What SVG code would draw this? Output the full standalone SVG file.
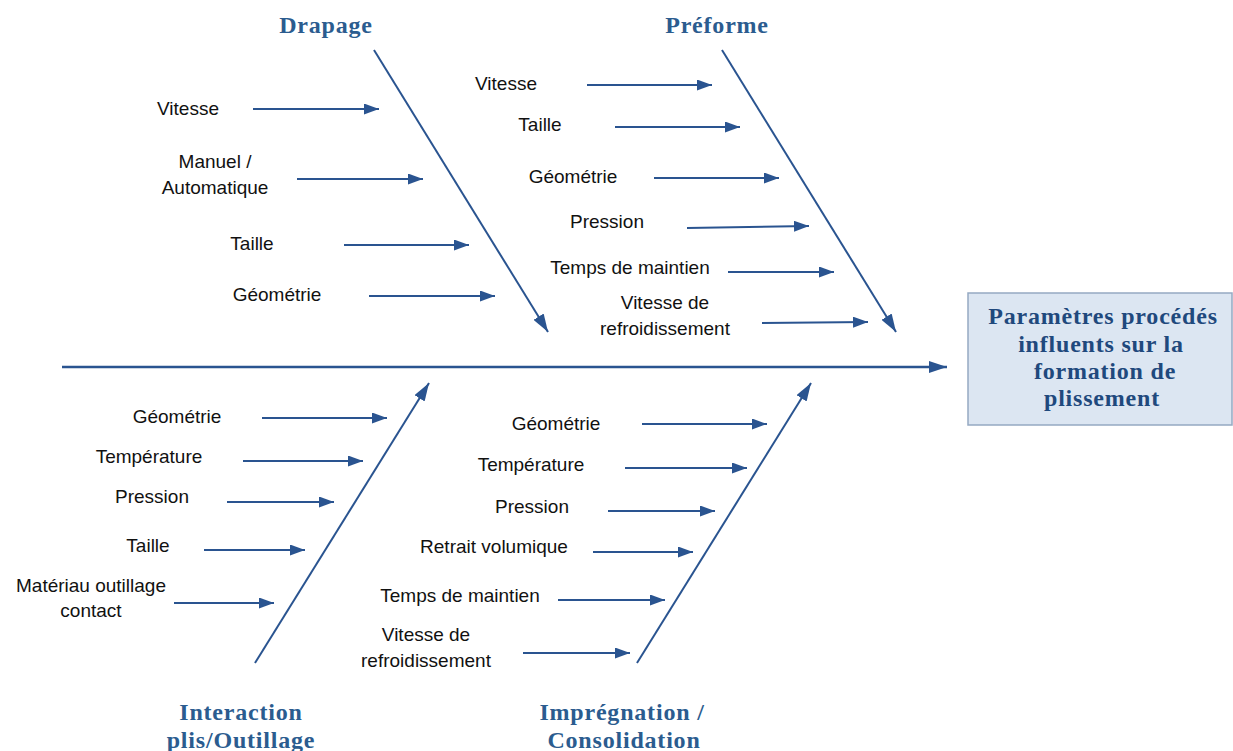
<svg xmlns="http://www.w3.org/2000/svg" width="1233" height="751" viewBox="0 0 1233 751">
<defs>
<marker id="ah" markerUnits="userSpaceOnUse" markerWidth="18" markerHeight="12" refX="18" refY="6" orient="auto"><path d="M0,0 L18,6 L0,12 Z" fill="#2A5490"/></marker>
<marker id="ahs" markerUnits="userSpaceOnUse" markerWidth="15" markerHeight="11" refX="15" refY="5.5" orient="auto"><path d="M0,0 L15,5.5 L0,11 Z" fill="#2A5490"/></marker>
<style>
.bone{stroke:#2A5490;stroke-width:2;fill:none;marker-end:url(#ah)}
.spine{stroke:#2A5490;stroke-width:2.5;fill:none;marker-end:url(#ah)}
.arr{stroke:#2A5490;stroke-width:2.2;fill:none;marker-end:url(#ahs)}
.lbl{font-family:"Liberation Sans",Arial,sans-serif;font-size:19px;fill:#111;text-anchor:middle}
.ttl{font-family:"Liberation Serif","Times New Roman",serif;font-weight:bold;font-size:24px;letter-spacing:0.8px;fill:#2B5C8F;text-anchor:middle}
.box{fill:#DCE6F2;stroke:#95A9C2;stroke-width:1.5}
.btxt{font-family:"Liberation Serif","Times New Roman",serif;font-weight:bold;font-size:24px;letter-spacing:0.8px;fill:#1F497D;text-anchor:middle}
</style>
</defs>
<g id="connectors">
<path class="spine" d="M62,367 L947,367"/>
<path class="bone" d="M374,50 L548,332"/>
<path class="bone" d="M722,50 L896,332"/>
<path class="bone" d="M255,663 L429,383"/>
<path class="bone" d="M637,663 L811,383"/>
<path class="arr" d="M253,109 L379,109"/>
<path class="arr" d="M297,179 L423,179"/>
<path class="arr" d="M344,245 L469,245"/>
<path class="arr" d="M369,296 L495,296"/>
<path class="arr" d="M587,85 L712,85"/>
<path class="arr" d="M615,127 L740,127"/>
<path class="arr" d="M654,178 L779,178"/>
<path class="arr" d="M687,228 L809,226"/>
<path class="arr" d="M728,272 L834,272"/>
<path class="arr" d="M762,323 L868,322"/>
<path class="arr" d="M262,418 L387,418"/>
<path class="arr" d="M243,461 L363,461"/>
<path class="arr" d="M227,502 L334,502"/>
<path class="arr" d="M204,550 L305,550"/>
<path class="arr" d="M174,603 L274,603"/>
<path class="arr" d="M642,424 L767,424"/>
<path class="arr" d="M625,468 L747,468"/>
<path class="arr" d="M608,511 L715,511"/>
<path class="arr" d="M593,552 L693,552"/>
<path class="arr" d="M558,600 L665,600"/>
<path class="arr" d="M523,653 L630,653"/>
</g>
<g id="result">
<rect class="box" x="968" y="293" width="264" height="132"/>
<text class="btxt" x="1103" y="324">Paramètres procédés</text>
<text class="btxt" x="1101" y="352">influents sur la</text>
<text class="btxt" x="1105" y="379">formation de</text>
<text class="btxt" x="1102" y="406">plissement</text>
</g>
<g id="drapage">
<text class="ttl" x="326" y="33">Drapage</text>
<text class="lbl" x="188" y="115">Vitesse</text>
<text class="lbl" x="215" y="168">Manuel /</text>
<text class="lbl" x="215" y="194">Automatique</text>
<text class="lbl" x="252" y="250">Taille</text>
<text class="lbl" x="277" y="301">Géométrie</text>
</g>
<g id="preforme">
<text class="ttl" x="717" y="33">Préforme</text>
<text class="lbl" x="506" y="90">Vitesse</text>
<text class="lbl" x="540" y="131">Taille</text>
<text class="lbl" x="573" y="183">Géométrie</text>
<text class="lbl" x="607" y="228">Pression</text>
<text class="lbl" x="630" y="274">Temps de maintien</text>
<text class="lbl" x="665" y="309">Vitesse de</text>
<text class="lbl" x="665" y="335">refroidissement</text>
</g>
<g id="interaction">
<text class="ttl" x="241" y="720">Interaction</text>
<text class="ttl" x="241" y="748">plis/Outillage</text>
<text class="lbl" x="177" y="423">Géométrie</text>
<text class="lbl" x="149" y="463">Température</text>
<text class="lbl" x="152" y="503">Pression</text>
<text class="lbl" x="148" y="552">Taille</text>
<text class="lbl" x="91" y="592">Matériau outillage</text>
<text class="lbl" x="91" y="617">contact</text>
</g>
<g id="impregnation">
<text class="ttl" x="622" y="720">Imprégnation /</text>
<text class="ttl" x="624" y="748">Consolidation</text>
<text class="lbl" x="556" y="430">Géométrie</text>
<text class="lbl" x="531" y="471">Température</text>
<text class="lbl" x="532" y="513">Pression</text>
<text class="lbl" x="494" y="553">Retrait volumique</text>
<text class="lbl" x="460" y="602">Temps de maintien</text>
<text class="lbl" x="426" y="641">Vitesse de</text>
<text class="lbl" x="426" y="667">refroidissement</text>
</g>
</svg>
